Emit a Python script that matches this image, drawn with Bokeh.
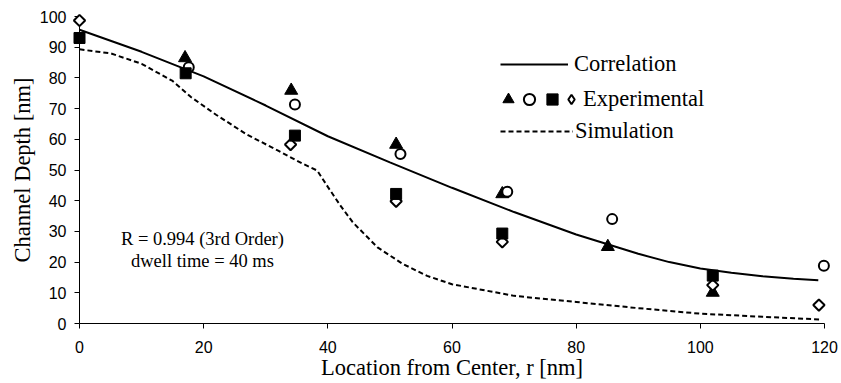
from bokeh.plotting import figure
from bokeh.models import Range1d, Legend, LegendItem, Label, FixedTicker
from bokeh.embed import file_html
from bokeh.resources import INLINE
import numpy as np

# ---- data ----
corr_x = [0, 10, 20, 30, 40, 50, 60, 70, 80, 90, 95, 100, 105, 110, 115, 119]
corr_y = [95.7, 88.5, 80.5, 71.0, 61.0, 52.5, 44.2, 36.3, 29.0, 22.7, 20.0, 17.9, 16.5, 15.4, 14.6, 14.1]

sim_x = [0, 5, 10, 15, 18, 22, 27, 32, 36, 38.3, 40, 42, 44, 48, 52, 56, 60, 70, 80, 90, 100, 110, 119.5]
sim_y = [89.3, 88.0, 84.6, 79.0, 73.7, 68.0, 61.5, 56.3, 52.0, 49.8, 44.5, 38.5, 33.0, 24.8, 19.5, 15.5, 12.8, 9.0, 7.0, 5.0, 3.2, 2.2, 1.3]

tri_x = [17.0, 34.1, 51.0, 68.1, 85.1, 102.0]
tri_y = [86.5, 75.9, 58.3, 42.2, 25.0, 10.1]

circ_x = [17.6, 34.7, 51.7, 68.9, 85.8, 119.9]
circ_y = [83.5, 71.3, 55.2, 42.9, 34.0, 18.8]

sq_x = [0.0, 17.1, 34.7, 51.0, 68.1, 102.0]
sq_y = [93.0, 81.5, 61.2, 42.2, 29.3, 15.6]

dia_x = [0.0, 34.0, 51.0, 68.1, 102.0, 119.1]
dia_y = [98.7, 58.3, 39.8, 26.6, 12.5, 6.0]

x_ticks = [0, 20, 40, 60, 80, 100, 120]
y_ticks = [0, 10, 20, 30, 40, 50, 60, 70, 80, 90, 100]

note_lines = ["R = 0.994 (3rd Order)", "dwell time = 40 ms"]
note_x = 19.8
note_y = [27.6, 20.2]

SERIF = "Liberation Serif"
SANS = "Liberation Sans"

p = figure(width=841, height=383, x_range=Range1d(0, 120), y_range=Range1d(0, 100),
           output_backend="svg", toolbar_location=None,
           min_border_left=79, min_border_right=17, min_border_top=16, min_border_bottom=60)
p.outline_line_color = None
p.grid.visible = False
p.background_fill_color = "white"
p.border_fill_color = "white"

# axes
for ax in (p.xaxis[0], p.yaxis[0]):
    ax.axis_line_color = "black"
    ax.axis_line_width = 1
    ax.major_tick_line_color = "black"
    ax.major_tick_in = 0
    ax.major_tick_out = 5
    ax.minor_tick_line_color = None
    ax.major_label_text_font = SANS
    ax.major_label_text_font_size = "16px"
    ax.major_label_text_color = "black"
    ax.axis_label_text_font = SERIF
    ax.axis_label_text_font_size = "22.5px"
    ax.axis_label_text_font_style = "normal"
    ax.axis_label_text_color = "black"

p.xaxis.ticker = FixedTicker(ticks=x_ticks)
p.yaxis.ticker = FixedTicker(ticks=y_ticks)
p.xaxis.axis_label = "Location from Center, r [nm]"
p.yaxis.axis_label = "Channel Depth [nm]"
p.xaxis.major_label_standoff = 12
p.xaxis.axis_label_standoff = -1
p.yaxis.major_label_standoff = 8
p.yaxis.axis_label_standoff = 2

# lines
r_corr = p.line(corr_x, corr_y, line_color="black", line_width=2)
r_sim = p.line(sim_x, sim_y, line_color="black", line_width=2, line_dash="5 3")

# markers
r_tri = p.scatter(tri_x, tri_y, marker="triangle", size=13, fill_color="black", line_color="black", level="overlay")
r_dia = p.scatter(dia_x, dia_y, marker="square", angle=np.pi / 4, size=8, fill_color="white",
                  line_color="black", line_width=2, level="overlay")
r_circ = p.scatter(circ_x, circ_y, marker="circle", size=10, fill_color="white", line_color="black",
                   line_width=2, level="overlay")
r_sq = p.scatter(sq_x, sq_y, marker="square", size=11, fill_color="black", line_color="black", level="overlay")
# legend-only key for the diamond (nothing drawn in the plot)
r_dia_key = p.scatter([np.nan], [np.nan], marker="diamond", size=11, fill_color="white",
                      line_color="black", line_width=2)

# annotation
for txt, yy in zip(note_lines, note_y):
    p.add_layout(Label(x=note_x, y=yy, text=txt, text_align="center", text_baseline="middle",
                       text_font=SERIF, text_font_size="18.5px", text_color="black"))

def make_legend(items, loc, glyph_w, glyph_h, standoff=6):
    lg = Legend(items=items, location=loc,
                glyph_width=glyph_w, glyph_height=glyph_h, label_width=0, label_height=20,
                label_standoff=standoff, spacing=0, padding=0, margin=0,
                border_line_color=None, background_fill_alpha=0,
                label_text_font=SERIF, label_text_font_size="22.5px", label_text_color="black")
    p.add_layout(lg)
    return lg

make_legend([LegendItem(label="Correlation", renderers=[r_corr])], (421, 246), 68, 20, standoff=6)
make_legend([LegendItem(label="", renderers=[r_tri])], (415, 210), 28, 28, standoff=0)
make_legend([LegendItem(label="", renderers=[r_circ])], (436, 210), 28, 28, standoff=0)
make_legend([LegendItem(label="", renderers=[r_sq])], (459, 210), 28, 28, standoff=0)
make_legend([LegendItem(label="Experimental", renderers=[r_dia_key])], (480, 210), 24, 28, standoff=0)
make_legend([LegendItem(label="Simulation", renderers=[r_sim])], (421, 179), 73, 20, standoff=2)

open("out.html", "w").write(file_html(p, INLINE))
